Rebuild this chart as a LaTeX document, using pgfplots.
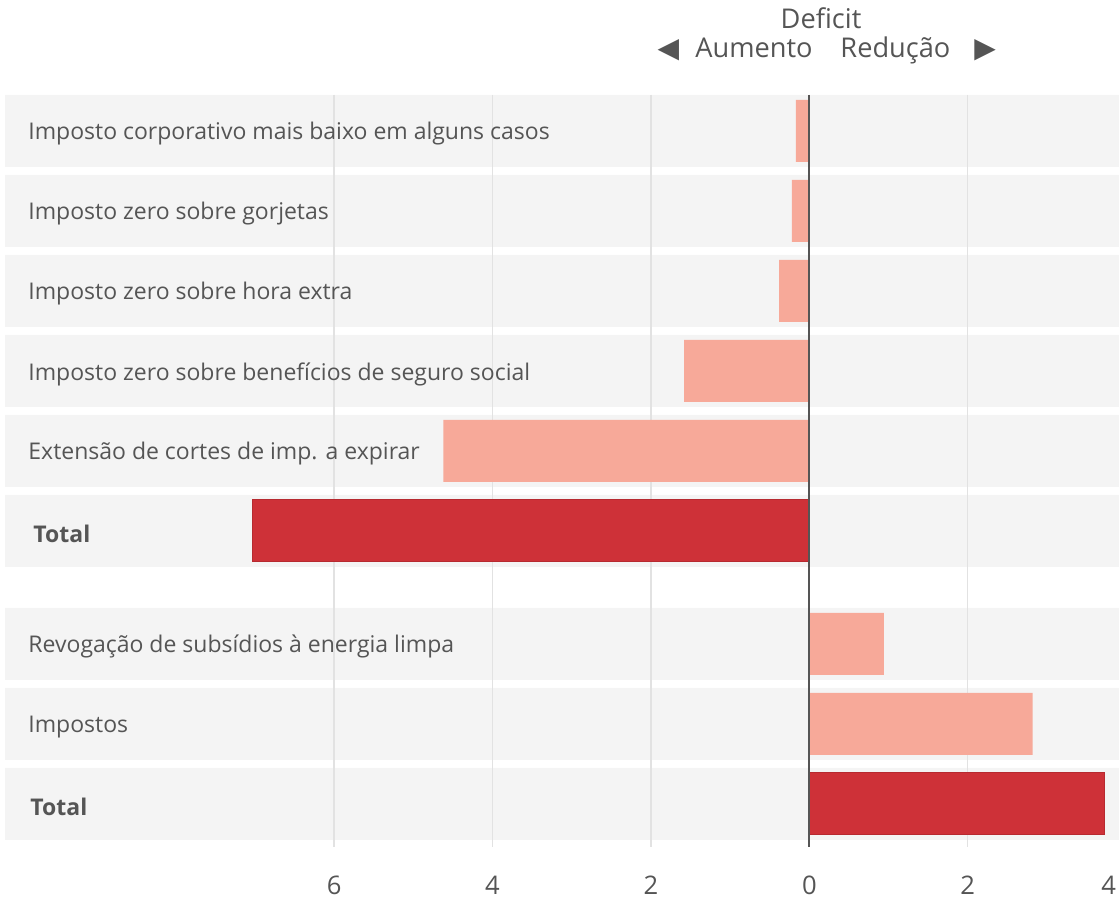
\documentclass[border=0pt]{standalone}
\usepackage{fontspec}
\setmainfont{Open Sans}
\newfontfamily\symfont{DejaVu Sans}
\usepackage{pgfplots}
\pgfplotsset{compat=1.18}
\definecolor{band}{HTML}{F4F4F4}
\definecolor{gridc}{HTML}{E2E2E2}
\definecolor{light}{HTML}{F7A999}
\definecolor{dark}{HTML}{CE3138}
\definecolor{darkedge}{HTML}{B72A30}
\definecolor{txt}{HTML}{555555}
\definecolor{zero}{HTML}{555555}
\begin{document}
\begin{tikzpicture}
\begin{axis}[
  scale only axis, width=557pt, height=376pt,
  xmin=-10.155, xmax=3.910, ymin=-0.45, ymax=8.95, y dir=reverse,
  axis line style={draw=none}, major tick length=0pt,
  xtick={-6,-4,-2,0,2}, xticklabels={6,4,2,0,2},
  extra x ticks={3.78}, extra x tick labels={4}, extra x tick style={grid=none},
  xmajorgrids, grid style={gridc, line width=0.75pt},
  ytick={0,1,2,3,4,5,6.41,7.41,8.41},
  yticklabels={Imposto corporativo mais baixo em alguns casos,
    Imposto zero sobre gorjetas,
    Imposto zero sobre hora extra,
    Imposto zero sobre benefícios de seguro social,
    Extensão de cortes de imp. a expirar,
    {\kern2.5pt\textbf{Total}},
    Revogação de subsídios à energia limpa,
    Impostos,
    {\kern1pt\textbf{Total}}},
  yticklabel style={anchor=west, inner sep=0pt, xshift=11.5pt, yshift=-1.5pt, font=\fontsize{11.5}{14}\selectfont, text=txt},
  xticklabel style={anchor=north, inner sep=0pt, yshift=-14.5pt, font=\fontsize{12.8}{15}\selectfont, text=txt},
  /pgf/number format/assume math mode=true,
  clip=false, set layers,
]
% background bands
\addplot[xbar, bar shift=0pt, bar width=36pt, fill=band, draw=none, on layer=axis background]
  coordinates {(3.91,0) (3.91,1) (3.91,2) (3.91,3) (3.91,4) (3.91,5) (3.91,6.41) (3.91,7.41) (3.91,8.41)};
\addplot[xbar, bar shift=0pt, bar width=36pt, fill=band, draw=none, on layer=axis background]
  coordinates {(-10.155,0) (-10.155,1) (-10.155,2) (-10.155,3) (-10.155,4) (-10.155,5) (-10.155,6.41) (-10.155,7.41) (-10.155,8.41)};
% data
\addplot[xbar, bar shift=0pt, bar width=31pt, fill=light, draw=none]
  coordinates {(-0.17,0) (-0.22,1) (-0.38,2) (-1.58,3) (-4.62,4) (0.94,6.41) (2.82,7.41)};
\addplot[xbar, bar shift=0pt, bar width=31pt, fill=dark, draw=darkedge, line width=0.5pt]
  coordinates {(-7.03,5) (3.73,8.41)};
\draw[zero, line width=1pt] (axis cs:0,-0.45) -- (axis cs:0,8.95);
% header
\node[anchor=base, inner sep=0pt, text=txt, font=\fontsize{13.6}{16}\selectfont] at (axis cs:0.148,-1.275) {Deficit};
\node[anchor=base east, inner sep=0pt, text=txt, font=\fontsize{13.6}{16}\selectfont] at (axis cs:0.047,-0.9125) {Aumento};
\node[anchor=base west, inner sep=0pt, text=txt, font=\fontsize{13.6}{16}\selectfont] at (axis cs:0.388,-0.9125) {Redução};
\node[inner sep=0pt, text=txt, font=\symfont\fontsize{14}{16}\selectfont] at (axis cs:-1.78,-1.0125) {◀};
\node[inner sep=0pt, text=txt, font=\symfont\fontsize{14}{16}\selectfont] at (axis cs:2.22,-1.0125) {▶};
\coordinate (tl) at (axis cs:-10.2184,-1.6375);
\coordinate (br) at (axis cs:3.910,9.6);
\end{axis}
\pgfresetboundingbox
\path[use as bounding box] (tl) rectangle (br);
\end{tikzpicture}
\end{document}
